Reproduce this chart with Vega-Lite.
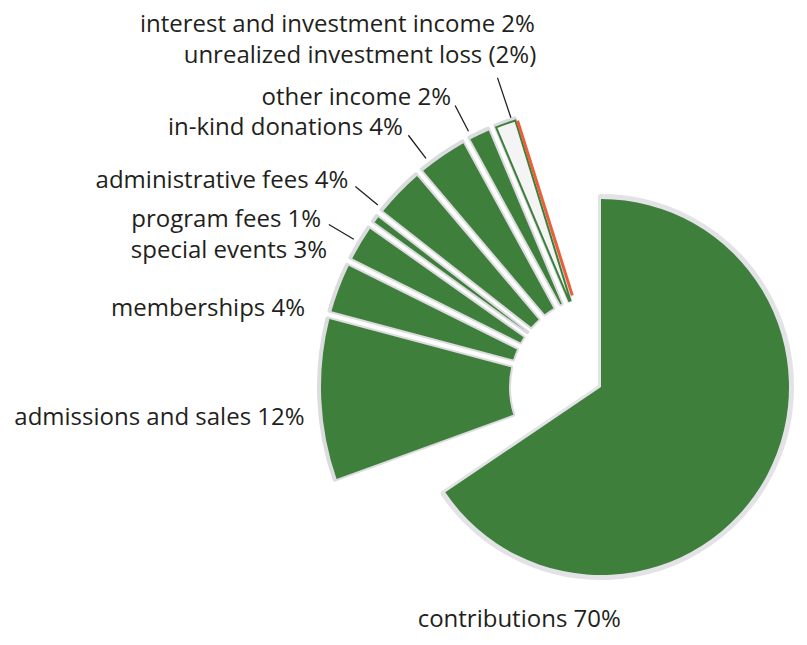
{
  "$schema": "https://vega.github.io/schema/vega-lite/v6.json",
  "width": 412,
  "height": 490,
  "autosize": "none",
  "padding": {"left": 395, "top": 142, "right": 0, "bottom": 13},
  "background": "white",
  "config": {"view": {"stroke": null}},
  "resolve": {"scale": {"theta": "independent"}},
  "data": {
    "values": [
      {"order": 1, "label": "contributions", "pct": 70, "text": "contributions 70%"},
      {"order": 2, "label": "admissions and sales", "pct": 12, "text": "admissions and sales 12%"},
      {"order": 3, "label": "memberships", "pct": 4, "text": "memberships 4%"},
      {"order": 4, "label": "special events", "pct": 3, "text": "special events 3%"},
      {"order": 5, "label": "program fees", "pct": 1, "text": "program fees 1%"},
      {"order": 6, "label": "administrative fees", "pct": 4, "text": "administrative fees 4%"},
      {"order": 7, "label": "in-kind donations", "pct": 4, "text": "in-kind donations 4%"},
      {"order": 8, "label": "other income", "pct": 2, "text": "other income 2%"},
      {"order": 9, "label": "interest and investment income", "pct": 2, "text": "interest and investment income 2%"},
      {"order": 10, "label": "unrealized investment loss", "pct": -2, "text": "unrealized investment loss (2%)"}
    ]
  },
  "transform": [
    {"stack": "pct", "groupby": [], "sort": [{"field": "order", "order": "ascending"}], "as": ["s0", "s1"]}
  ],
  "layer": [
    {
      "transform": [{"filter": "datum.order == 1"}],
      "mark": {"type": "arc", "radius": 190, "radius2": 0, "fill": "#e3e3e7", "stroke": "#e3e3e7", "strokeWidth": 6, "strokeJoin": "round"},
      "encoding": {
        "theta": {"field": "s0", "type": "quantitative", "stack": null, "scale": {"domain": [0, 102], "range": [0, 6.0]}},
        "theta2": {"field": "s1"}
      }
    },
    {
      "transform": [{"filter": "datum.order >= 2 && datum.order <= 9"}],
      "mark": {"type": "arc", "radius": 282, "radius2": 92, "padAngle": 0.027, "fill": "#dcdce0", "stroke": "#dcdce0", "strokeWidth": 4, "strokeJoin": "round"},
      "encoding": {
        "theta": {"field": "s0", "type": "quantitative", "stack": null, "scale": {"domain": [70, 102], "range": [4.3633, 5.9865]}},
        "theta2": {"field": "s1"}
      }
    },
    {
      "transform": [{"filter": "datum.order == 1"}],
      "mark": {"type": "arc", "radius": 188, "radius2": 0, "fill": "#3d7f3b"},
      "encoding": {
        "theta": {"field": "s0", "type": "quantitative", "stack": null, "scale": {"domain": [0, 102], "range": [0, 6.0]}},
        "theta2": {"field": "s1"}
      }
    },
    {
      "transform": [{"filter": "datum.order >= 2 && datum.order <= 9"}],
      "mark": {"type": "arc", "radius": 280, "radius2": 92, "padAngle": 0.027, "strokeWidth": 2},
      "encoding": {
        "theta": {"field": "s0", "type": "quantitative", "stack": null, "scale": {"domain": [70, 102], "range": [4.3633, 5.9865]}},
        "theta2": {"field": "s1"},
        "fill": {"condition": {"test": "datum.order == 9", "value": "#f4f4f4"}, "value": "#3d7f3b"},
        "stroke": {"condition": {"test": "datum.order == 9", "value": "#3d7f3b"}, "value": "transparent"}
      }
    },
    {
      "transform": [{"filter": "datum.order == 9"}],
      "mark": {"type": "arc", "radius": 279, "radius2": 96, "thetaOffset": -0.007, "theta2Offset": -0.007, "fill": "transparent", "stroke": "#e8603a", "strokeWidth": 3},
      "encoding": {
        "theta": {"field": "s1", "type": "quantitative", "stack": null, "scale": {"domain": [70, 102], "range": [4.3633, 5.9865]}},
        "theta2": {"field": "s1"}
      }
    },
    {
      "mark": {"type": "arc", "radius": 317, "radius2": 288, "padAngle": 1.2, "thetaOffset": 0.03, "theta2Offset": 0.03, "fill": "transparent", "strokeWidth": 1.3},
      "encoding": {
        "theta": {"field": "pct", "type": "quantitative", "stack": true, "scale": {"domain": [0, 102], "range": [0, 5.95]}},
        "order": {"field": "order", "type": "quantitative"},
        "detail": {"field": "label"},
        "stroke": {"condition": {"test": "datum.order >= 5 && datum.order <= 8", "value": "#231f20"}, "value": "transparent"}
      }
    },
    {
      "mark": {"type": "arc", "radius": 326, "radius2": 284, "padAngle": 1.2, "thetaOffset": -0.2646, "theta2Offset": -0.2646, "fill": "transparent", "strokeWidth": 1.3},
      "encoding": {
        "theta": {"field": "pct", "type": "quantitative", "stack": true, "scale": {"domain": [0, 102], "range": [0, 5.95]}},
        "order": {"field": "order", "type": "quantitative"},
        "detail": {"field": "label"},
        "stroke": {"condition": {"test": "datum.order == 10", "value": "#231f20"}, "value": "transparent"}
      }
    },
    {
      "mark": {"type": "text", "radius": 298, "thetaOffset": 0.175, "align": "right", "baseline": "middle", "font": "Open Sans", "fontSize": 24, "fill": "#231f20"},
      "encoding": {
        "theta": {"field": "pct", "type": "quantitative", "stack": true, "scale": {"domain": [0, 102], "range": [0, 5.95]}},
        "order": {"field": "order", "type": "quantitative"},
        "detail": {"field": "label"},
        "text": {"condition": {"test": "datum.order == 2", "field": "text", "type": "nominal"}, "value": ""}
      }
    },
    {
      "mark": {"type": "text", "radius": 306, "thetaOffset": 0.07, "align": "right", "baseline": "middle", "font": "Open Sans", "fontSize": 24, "fill": "#231f20"},
      "encoding": {
        "theta": {"field": "pct", "type": "quantitative", "stack": true, "scale": {"domain": [0, 102], "range": [0, 5.95]}},
        "order": {"field": "order", "type": "quantitative"},
        "detail": {"field": "label"},
        "text": {"condition": {"test": "datum.order == 3 || datum.order == 4", "field": "text", "type": "nominal"}, "value": ""}
      }
    },
    {
      "mark": {"type": "text", "radius": 326, "thetaOffset": 0.03, "align": "right", "baseline": "middle", "font": "Open Sans", "fontSize": 24, "fill": "#231f20"},
      "encoding": {
        "theta": {"field": "pct", "type": "quantitative", "stack": true, "scale": {"domain": [0, 102], "range": [0, 5.95]}},
        "order": {"field": "order", "type": "quantitative"},
        "detail": {"field": "label"},
        "text": {"condition": {"test": "datum.order >= 5 && datum.order <= 8", "field": "text", "type": "nominal"}, "value": ""}
      }
    },
    {
      "mark": {"type": "text", "radius": 368, "thetaOffset": 0.211, "align": "right", "baseline": "middle", "font": "Open Sans", "fontSize": 24, "fill": "#231f20"},
      "encoding": {
        "theta": {"field": "pct", "type": "quantitative", "stack": true, "scale": {"domain": [0, 102], "range": [0, 5.95]}},
        "order": {"field": "order", "type": "quantitative"},
        "detail": {"field": "label"},
        "text": {"condition": {"test": "datum.order == 9", "field": "text", "type": "nominal"}, "value": ""}
      }
    },
    {
      "mark": {"type": "text", "radius": 337, "thetaOffset": -0.135, "align": "right", "baseline": "middle", "font": "Open Sans", "fontSize": 24, "fill": "#231f20"},
      "encoding": {
        "theta": {"field": "pct", "type": "quantitative", "stack": true, "scale": {"domain": [0, 102], "range": [0, 5.95]}},
        "order": {"field": "order", "type": "quantitative"},
        "detail": {"field": "label"},
        "text": {"condition": {"test": "datum.order == 10", "field": "text", "type": "nominal"}, "value": ""}
      }
    },
    {
      "mark": {"type": "text", "radius": 247, "align": "center", "baseline": "middle", "font": "Open Sans", "fontSize": 24, "fill": "#231f20"},
      "encoding": {
        "theta": {"field": "pct", "type": "quantitative", "stack": true, "bandPosition": 0.852, "scale": {"domain": [0, 102], "range": [0, 5.95]}},
        "order": {"field": "order", "type": "quantitative"},
        "detail": {"field": "label"},
        "text": {"condition": {"test": "datum.order == 1", "field": "text", "type": "nominal"}, "value": ""}
      }
    }
  ]
}
